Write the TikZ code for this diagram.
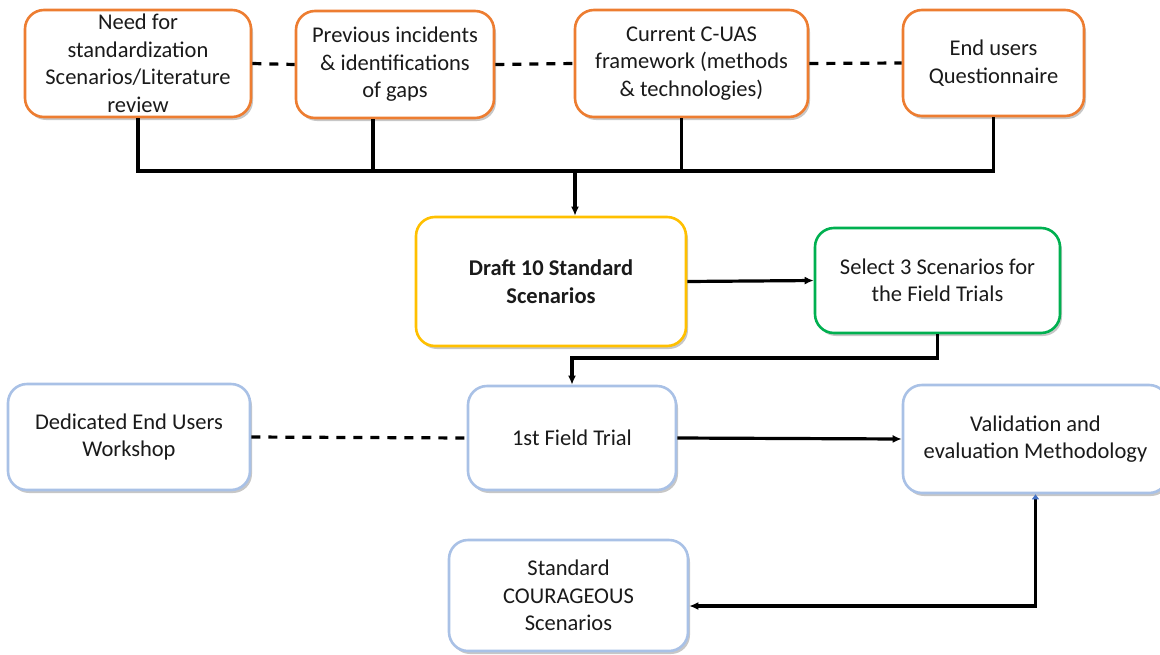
\documentclass[tikz,border=0pt]{standalone}
\usepackage{fontspec}
\setmainfont{Carlito}
\usetikzlibrary{arrows.meta,shadows}
\definecolor{borange}{HTML}{ED7D31}
\definecolor{byellow}{HTML}{FFC000}
\definecolor{bgreen}{HTML}{00B050}
\definecolor{bblue}{HTML}{A9C1E6}
\definecolor{tipblue}{HTML}{4472C4}
\definecolor{txt}{HTML}{1A1A1A}
\begin{document}
\begin{tikzpicture}[x=1pt,y=-1pt,
  box/.style={draw, line width=2.6pt, fill=white, rounded corners=19pt,
    align=center, text=txt, inner sep=2pt,
    font=\fontsize{22.5}{27.5}\selectfont,
    drop shadow={shadow xshift=2pt,shadow yshift=-3pt,opacity=0.22,fill=black}},
  obox/.style={box, draw=borange},
  ybox/.style={box, draw=byellow},
  gbox/.style={box, draw=bgreen},
  lbbox/.style={box, draw=bblue},
  link/.style={line width=3.2pt, draw=black},
  arrow/.style={link, -{Latex[length=9pt,width=8pt]}},
  dashlink/.style={link, dash pattern=on 9pt off 8pt}
]
\useasboundingbox (0,0) rectangle (1160,654);

% inputs
\node[obox, minimum width=226pt, minimum height=107pt] (need) at (138,63.5)
  {Need for\\standardization\\Scenarios/Literature\\review};
\node[obox, minimum width=198pt, minimum height=107pt] (prev) at (395,64.5)
  {Previous incidents\\\& identifications\\of gaps};
\node[obox, minimum width=233pt, minimum height=107pt] (cuas) at (691.5,63.5)
  {Current C-UAS\\framework (methods\\\& technologies)};
\node[obox, minimum width=181pt, minimum height=106pt] (quest) at (993.5,63)
  {End users\\Questionnaire};

% scenario drafting
\node[ybox, minimum width=270pt, minimum height=129pt, font=\fontsize{22.5}{27.5}\selectfont\bfseries] (draft) at (551,281.5)
  {Draft 10 Standard\\Scenarios};
\node[gbox, minimum width=245pt, minimum height=105pt] (select) at (937.5,280.5)
  {Select 3 Scenarios for\\the Field Trials};

% trials and validation
\node[lbbox, minimum width=242pt, minimum height=106pt] (workshop) at (129,437)
  {Dedicated End Users\\Workshop};
\node[lbbox, minimum width=208pt, minimum height=104pt] (trial) at (572,438)
  {1st Field Trial};
\node[lbbox, minimum width=265pt, minimum height=108pt] (valid) at (1035.5,439)
  {Validation and\\evaluation Methodology};
\node[lbbox, minimum width=239pt, minimum height=111pt] (std) at (568.5,595.5)
  {Standard\\COURAGEOUS\\Scenarios};

% dashed relations
\draw[dashlink] (need.east) -- (prev.west);
\draw[dashlink] (prev.east) -- (cuas.west);
\draw[dashlink] (cuas.east) -- (quest.west);
\draw[dashlink] (workshop.east) -- (trial.west);

% collecting bus into the draft
\coordinate (bus) at (575,171);
\draw[link] (need.south) |- (quest.south |- bus) -- (quest.south);
\draw[link] ([xshift=-22pt]prev.south) -- ([xshift=-22pt]prev.south |- bus);
\draw[link] ([xshift=-10pt]cuas.south) -- ([xshift=-10pt]cuas.south |- bus);
\draw[arrow] (bus) -- (bus |- draft.north);

% flow
\draw[arrow] (draft.east) -- (select.west);
\coordinate (turn) at (700,358);
\draw[arrow] (select.south) -- (select.south |- turn) -| (trial.north);
\draw[arrow] (trial.east) -- (valid.west);
\draw[link, {Triangle[color=tipblue,length=5pt,width=7pt]}-{Latex[length=9pt,width=8pt]}]
  (valid.south) |- ([yshift=-10.5pt]std.east);
\end{tikzpicture}
\end{document}
